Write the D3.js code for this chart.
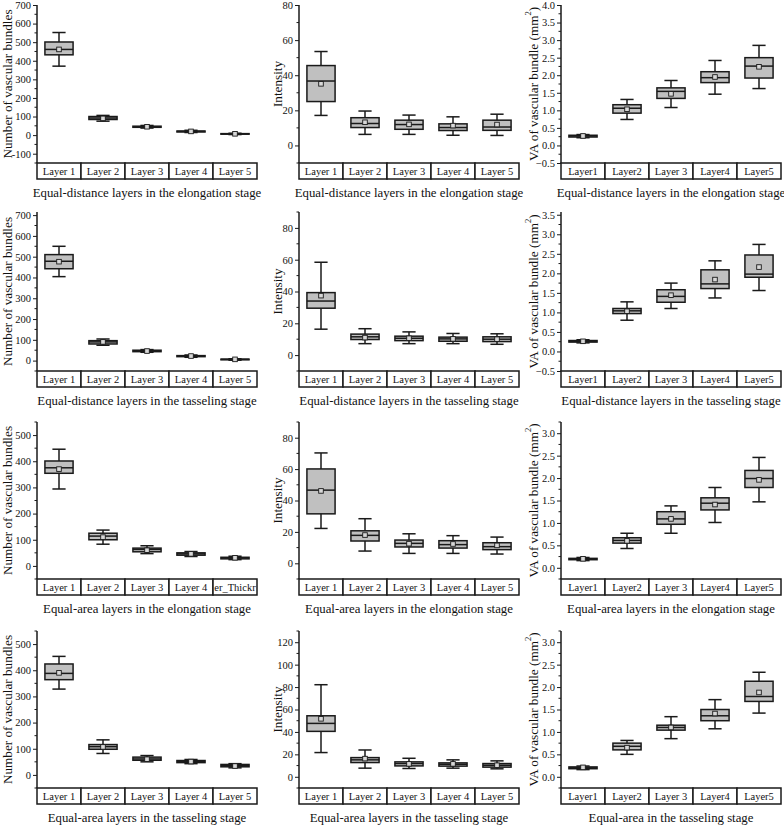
<!DOCTYPE html>
<html><head><meta charset="utf-8">
<script src="https://cdn.jsdelivr.net/npm/d3@7/dist/d3.min.js"></script>
<style>
body{margin:0;background:#fff;}
text{font-family:"Liberation Serif","Times New Roman",serif;fill:#111;}
</style></head>
<body><svg id="c" width="784" height="826"></svg>
<script>
// ---- categories ----
const catsStd = ["Layer 1","Layer 2","Layer 3","Layer 4","Layer 5"];
const catsVA  = ["Layer1","Layer2","Layer 3","Layer4","Layer5"];
const catsEAc = ["Layer 1","Layer 2","Layer 3","Layer 4","er_Thickr"];

// ---- box statistics per layer: [whiskerLow, q1, median, q3, whiskerHigh, mean] ----
const edElongCount = [[371,432,461,501,552,461],[75,84,92,100,106,90],[38,42,45,48,52,45],[14,17,20,22,26,20],[3,5,7,8,10,7]];
const edElongInt   = [[17.1,25,36.7,45.5,53.5,35.1],[6.3,10.2,12.5,15.8,19.6,13.2],[6.3,9.2,11.9,14.4,17.3,12.0],[5.8,8.5,10.2,12.3,16.3,11.3],[5.7,8.6,10.5,14.4,17.8,11.9]];
const edElongVA    = [[0.22,0.24,0.27,0.29,0.31,0.27],[0.74,0.92,1.06,1.16,1.31,1.03],[1.08,1.34,1.54,1.64,1.85,1.47],[1.46,1.79,1.93,2.10,2.42,1.95],[1.62,1.92,2.26,2.50,2.85,2.24]];

const edTasCount = [[404,442,478,510,550,476],[74,80,90,96,104,90],[40,43,47,50,53,46],[16,19,22,24,27,22],[2,4,6,7,9,6]];
const edTasInt   = [[16.3,29.5,34.0,39.3,58.4,37.4],[7.2,9.8,11.5,13.2,16.6,11.0],[7.2,9.1,10.6,11.9,14.6,10.6],[7.2,8.7,10.2,11.3,13.6,10.2],[6.8,8.5,10.0,11.5,13.4,10.0]];
const edTasVA    = [[0.22,0.24,0.26,0.28,0.30,0.26],[0.80,0.97,1.04,1.10,1.27,1.03],[1.10,1.26,1.41,1.58,1.75,1.44],[1.37,1.61,1.73,2.09,2.32,1.84],[1.56,1.90,1.98,2.47,2.74,2.16]];

const eaElongCount = [[294,354,375,401,446,370],[83,100,114,125,137,110],[47,54,63,68,77,60],[36,41,46,50,55,46],[24,27,31,33,37,31]];
const eaElongInt   = [[22.2,31.5,46.6,60.1,70.3,46.1],[7.8,14.2,17.8,20.7,28.4,18.0],[6.3,10.4,12.7,14.8,18.8,12.5],[6.3,9.7,11.9,14.4,17.6,12.3],[5.9,8.7,10.6,13.1,16.7,11.4]];
const eaElongVA    = [[0.16,0.18,0.20,0.21,0.23,0.20],[0.43,0.55,0.61,0.67,0.77,0.60],[0.77,0.97,1.09,1.25,1.38,1.09],[1.01,1.29,1.44,1.56,1.79,1.41],[1.47,1.79,1.99,2.17,2.46,1.96]];

const eaTasCount = [[328,364,388,424,453,390],[82,98,108,116,134,107],[50,56,61,68,74,60],[43,47,51,55,59,51],[27,31,35,40,43,34]];
const eaTasInt   = [[21.6,40.5,47.6,54.4,82.1,51.7],[7.7,12.7,15.1,17.1,23.9,16.2],[7.4,9.7,11.8,13.3,16.5,11.5],[7.7,9.5,11.2,12.4,15.1,11.5],[7.1,8.6,10.3,11.8,14.2,10.3]];
const eaTasVA    = [[0.16,0.18,0.20,0.22,0.24,0.21],[0.50,0.60,0.68,0.75,0.81,0.65],[0.85,1.04,1.10,1.15,1.34,1.10],[1.07,1.25,1.36,1.50,1.72,1.41],[1.42,1.68,1.79,2.13,2.33,1.88]];

// ---- tick labels / axis ranges ----
const ticksCount1 = [-100,0,100,200,300,400,500,600,700];
const ticksCount2 = [0,100,200,300,400,500,600,700];
const ticksCount3 = [0,100,200,300,400,500];
const ticksInt80  = [0,20,40,60,80];
const ticksInt120 = [0,20,40,60,80,100,120];
const ticksVA1 = [-0.5,0,0.5,1,1.5,2,2.5,3,3.5,4];
const ticksVA2 = [-0.5,0,0.5,1,1.5,2,2.5,3,3.5];
const ticksVA3 = [0,0.5,1,1.5,2,2.5,3];

const titleCount = "Number of vascular bundles";
const titleInt = "Intensity";
const xTitles = ["Equal-distance layers in the elongation stage","Equal-distance layers in the tasseling stage","Equal-area layers in the elongation stage","Equal-area layers in the tasseling stage"];
const xTitleVA4 = "Equal-area in the tasseling stage";

const panels = [
  {r:0,c:0,data:edElongCount,cats:catsStd,dom:[-150,700],ticks:ticksCount1,minor:50,yt:titleCount,xt:xTitles[0],fmt:d=>d},
  {r:0,c:1,data:edElongInt,cats:catsStd,dom:[-10,80],ticks:ticksInt80,minor:10,yt:titleInt,xt:xTitles[0],fmt:d=>d},
  {r:0,c:2,data:edElongVA,cats:catsVA,dom:[-0.5,4.0],ticks:ticksVA1,minor:0.25,yt:"VA",xt:xTitles[0],fmt:d3.format(".1f")},
  {r:1,c:0,data:edTasCount,cats:catsStd,dom:[-50,715],ticks:ticksCount2,minor:50,yt:titleCount,xt:xTitles[1],fmt:d=>d},
  {r:1,c:1,data:edTasInt,cats:catsStd,dom:[-10,90],ticks:ticksInt80,minor:10,yt:titleInt,xt:xTitles[1],fmt:d=>d},
  {r:1,c:2,data:edTasVA,cats:catsVA,dom:[-0.5,3.57],ticks:ticksVA2,minor:0.25,yt:"VA",xt:xTitles[1],fmt:d3.format(".1f")},
  {r:2,c:0,data:eaElongCount,cats:catsEAc,dom:[-50,550],ticks:ticksCount3,minor:50,yt:titleCount,xt:xTitles[2],fmt:d=>d},
  {r:2,c:1,data:eaElongInt,cats:catsStd,dom:[-10,90],ticks:ticksInt80,minor:10,yt:titleInt,xt:xTitles[2],fmt:d=>d},
  {r:2,c:2,data:eaElongVA,cats:catsVA,dom:[-0.25,3.25],ticks:ticksVA3,minor:0.25,yt:"VA",xt:xTitles[2],fmt:d3.format(".1f")},
  {r:3,c:0,data:eaTasCount,cats:catsStd,dom:[-50,550],ticks:ticksCount3,minor:50,yt:titleCount,xt:xTitles[3],fmt:d=>d},
  {r:3,c:1,data:eaTasInt,cats:catsStd,dom:[-10,130],ticks:ticksInt120,minor:10,yt:titleInt,xt:xTitles[3],fmt:d=>d},
  {r:3,c:2,data:eaTasVA,cats:catsVA,dom:[-0.25,3.25],ticks:ticksVA3,minor:0.25,yt:"VA",xt:xTitleVA4,fmt:d3.format(".1f")}
];

const colX = [0,262,524];
const rowTop = [5,212,422,631];
const rowBot = [163,371,579,788];
const axisOff = 37, plotW = 220, catH = 16;
const ink = "#1a1a1a", boxFill = "#c0c0c0", sw = 1.5;

const svg = d3.select("#c");

panels.forEach((p,pi)=>{
  const x0 = colX[p.c] + axisOff, top = rowTop[p.r], bot = rowBot[p.r];
  const g = svg.append("g");
  const y = d3.scaleLinear().domain(p.dom).range([bot, top]);
  const x = d3.scaleBand().domain(p.cats).range([x0, x0+plotW]);

  // minor ticks
  const minorVals = d3.range(Math.ceil(p.dom[0]/p.minor)*p.minor, p.dom[1]+1e-9, p.minor)
      .filter(v=>!p.ticks.some(t=>Math.abs(t-v)<1e-9));
  g.append("g").selectAll("line").data(minorVals).join("line")
    .attr("x1",x0-2.5).attr("x2",x0).attr("y1",d=>y(d)).attr("y2",d=>y(d))
    .attr("stroke",ink).attr("stroke-width",1);

  // major axis
  const ax = d3.axisLeft(y).tickValues(p.ticks).tickFormat(p.fmt).tickSize(4).tickPadding(2);
  const axg = g.append("g").attr("transform",`translate(${x0},0)`).call(ax);
  axg.select(".domain").remove();
  axg.selectAll(".tick line").attr("stroke",ink).attr("stroke-width",1);
  axg.selectAll(".tick text").attr("font-size",10.5).attr("font-family","Liberation Serif").attr("fill","#111");
  g.append("line").attr("x1",x0).attr("x2",x0).attr("y1",top).attr("y2",bot)
    .attr("stroke",ink).attr("stroke-width",sw);

  // category table
  const cg = g.append("g");
  cg.selectAll("rect.cell").data(p.cats).join("rect").attr("class","cell")
    .attr("x",d=>x(d)).attr("y",bot).attr("width",x.bandwidth()).attr("height",catH)
    .attr("fill","#fff").attr("stroke",ink).attr("stroke-width",sw);
  cg.selectAll("text").data(p.cats).join("text")
    .attr("x",d=>x(d)+x.bandwidth()/2).attr("y",bot+catH/2+3.8)
    .attr("text-anchor","middle").attr("font-size",10.5).text(d=>d);

  // boxes
  const bw = x.bandwidth()*0.64, cap = x.bandwidth()*0.3;
  const bg = g.append("g");
  const items = p.data.map((d,i)=>({cat:p.cats[i],lo:d[0],q1:d[1],med:d[2],q3:d[3],hi:d[4],mean:d[5]}));
  const cx = d=>x(d.cat)+x.bandwidth()/2;
  bg.selectAll("line.wh").data(items).join("line").attr("class","wh")
    .attr("x1",cx).attr("x2",cx).attr("y1",d=>y(d.lo)).attr("y2",d=>y(d.hi))
    .attr("stroke",ink).attr("stroke-width",sw);
  bg.selectAll("line.caphi").data(items).join("line").attr("class","caphi")
    .attr("x1",d=>cx(d)-cap/2).attr("x2",d=>cx(d)+cap/2).attr("y1",d=>y(d.hi)).attr("y2",d=>y(d.hi))
    .attr("stroke",ink).attr("stroke-width",sw);
  bg.selectAll("line.caplo").data(items).join("line").attr("class","caplo")
    .attr("x1",d=>cx(d)-cap/2).attr("x2",d=>cx(d)+cap/2).attr("y1",d=>y(d.lo)).attr("y2",d=>y(d.lo))
    .attr("stroke",ink).attr("stroke-width",sw);
  bg.selectAll("rect.box").data(items).join("rect").attr("class","box")
    .attr("x",d=>cx(d)-bw/2).attr("width",bw)
    .attr("y",d=>y(d.q3)).attr("height",d=>Math.max(0.5,y(d.q1)-y(d.q3)))
    .attr("fill",boxFill).attr("stroke",ink).attr("stroke-width",sw);
  bg.selectAll("line.med").data(items).join("line").attr("class","med")
    .attr("x1",d=>cx(d)-bw/2).attr("x2",d=>cx(d)+bw/2).attr("y1",d=>y(d.med)).attr("y2",d=>y(d.med))
    .attr("stroke",ink).attr("stroke-width",sw);
  bg.selectAll("rect.mean").data(items).join("rect").attr("class","mean")
    .attr("x",d=>cx(d)-2.3).attr("y",d=>y(d.mean)-2.3).attr("width",4.6).attr("height",4.6)
    .attr("fill","#d8d8d8").attr("stroke",ink).attr("stroke-width",0.9);

  // axis titles
  g.append("text").attr("x",x0+plotW/2).attr("y",bot+catH+18)
    .attr("text-anchor","middle").attr("font-size",12.8).text(p.xt);
  const ytx = colX[p.c] + (p.c===1 ? 15 : (p.c===2 ? 8.5 : 7));
  const yt = g.append("text").attr("transform",`translate(${ytx},${(top+bot)/2}) rotate(-90)`)
    .attr("text-anchor","middle").attr("dominant-baseline","central").attr("font-size",13.2);
  if(p.yt==="VA"){
    yt.append("tspan").text("VA of vascular bundle (mm");
    yt.append("tspan").attr("font-size",8.5).attr("baseline-shift","super").text("2");
    yt.append("tspan").text(")");
  } else yt.text(p.yt);
});
</script></body></html>
